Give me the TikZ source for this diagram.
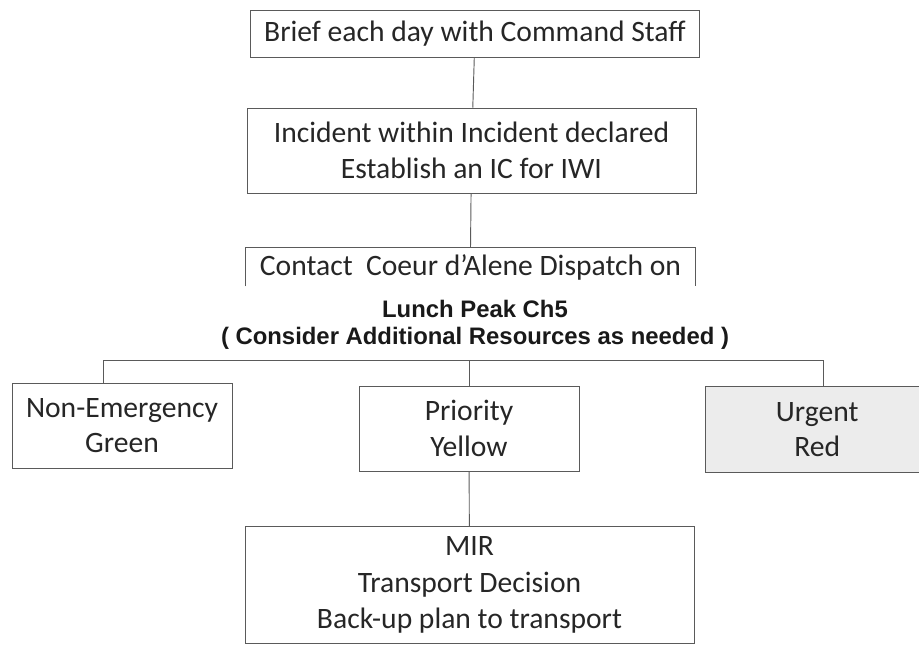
\documentclass[tikz,border=0pt]{standalone}
\usepackage{fontspec}
\setmainfont{Carlito}
\newfontfamily\headfont{Liberation Sans}
\usetikzlibrary{calc,positioning}
\usepackage{xcolor}
\definecolor{mline}{HTML}{5A5A5A}
\definecolor{mtext}{HTML}{262626}
\definecolor{mgray}{HTML}{ECECEC}
\tikzstyle{box}=[rectangle, draw=mline, line width=0.7pt, text=mtext, align=center, inner sep=0pt, font=\fontsize{22.2}{26.6}\selectfont]
\tikzstyle{wbox}=[box, minimum width=336.75pt]
\tikzstyle{sbox}=[box, minimum width=165pt, minimum height=63.75pt]
\tikzstyle{l1}=[draw=mline, line width=0.7pt]

\begin{document}
\begin{tikzpicture}[x=0.75pt, y=-0.75pt]
    \useasboundingbox (0,0) rectangle (919,645);

    \node[wbox, minimum height=35.25pt] at (475, 33.5) (brief) {Brief each day with Command Staff};
    \node[wbox, minimum height=63.75pt] at (471.5, 150.5) (iwi) {Incident within Incident declared\\Establish an IC for IWI};
    \node[wbox, draw=none, minimum height=28.5pt] at (470.5, 267) (dispatch) {Contact\ \ Coeur d'Alene Dispatch on};
    \draw[l1] (dispatch.south west) -- (dispatch.north west) -- (dispatch.north east) -- (dispatch.south east);

    \node[align=center, text=black!90, font=\headfont\bfseries\fontsize{17.9}{20.2}\selectfont] at (475, 324.5) (peak) {Lunch Peak Ch5\\( Consider Additional Resources as needed )};

    \node[sbox] at (122, 425.5) (green) {Non-Emergency\\Green};
    \node[sbox] at (469, 428.5) (yellow) {Priority\\Yellow};
    \node[sbox, draw=none, fill=mgray, minimum width=159.75pt] at (812.5, 429.5) (red) {\hspace*{7pt}Urgent\\\hspace*{7pt}Red};
    \draw[l1] (red.north east) -- (red.north west) -- (red.south west) -- (red.south east);
    \node[wbox, minimum height=87.75pt, font=\fontsize{22.2}{27.2}\selectfont] at (469.5, 585) (mir) {MIR\\Transport Decision\\Back-up plan to transport};

    \coordinate (busl) at (103, 360);
    \coordinate (busr) at (823, 360);

    \draw[l1] (brief) -- (iwi);
    \draw[l1] (iwi) -- (dispatch.north);
    \draw[l1] (green.north -| busl) -- (busl) -- (busr) -- (red.north -| busr);
    \draw[l1] (yellow.north) -- (yellow.north |- busl);
    \draw[l1] (yellow) -- (mir);
\end{tikzpicture}
\end{document}
